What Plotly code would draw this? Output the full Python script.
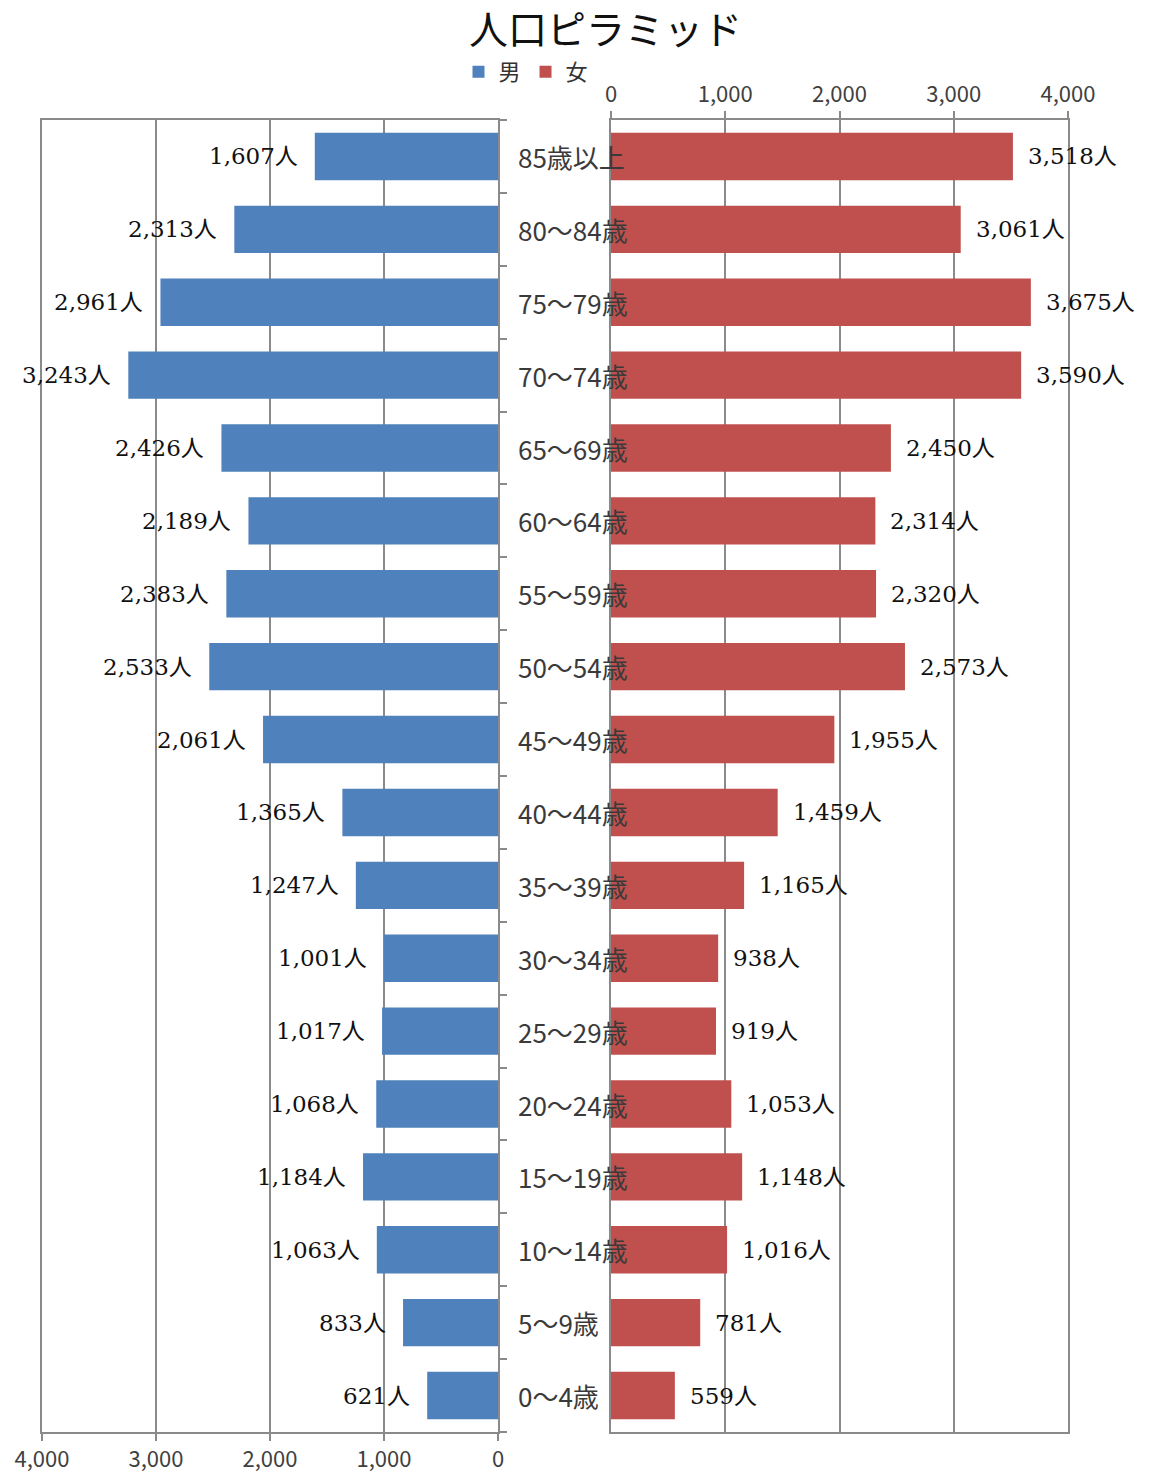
import plotly.graph_objects as go

# 年齢階級（下から上へ）
age_groups = ["0～4歳", "5～9歳", "10～14歳", "15～19歳", "20～24歳", "25～29歳",
              "30～34歳", "35～39歳", "40～44歳", "45～49歳", "50～54歳", "55～59歳",
              "60～64歳", "65～69歳", "70～74歳", "75～79歳", "80～84歳", "85歳以上"]
male = [621, 833, 1063, 1184, 1068, 1017, 1001, 1247, 1365, 2061,
        2533, 2383, 2189, 2426, 3243, 2961, 2313, 1607]
female = [559, 781, 1016, 1148, 1053, 919, 938, 1165, 1459, 1955,
          2573, 2320, 2314, 2450, 3590, 3675, 3061, 3518]
tick_vals = [0, 1000, 2000, 3000, 4000]
tick_text = ["0", "1,000", "2,000", "3,000", "4,000"]
chart_title = "人口ピラミッド"

BLUE = "#4F81BD"
RED = "#C0504D"
GRID = "#8a8a8a"
W, H = 1152, 1472

def px_x(p):
    return p / W

def px_y(p):
    return 1 - p / H

left_dom = [px_x(42), px_x(498)]
right_dom = [px_x(611), px_x(1068)]
y_dom = [px_y(1432), px_y(120)]

fig = go.Figure()
fig.add_trace(go.Bar(y=age_groups, x=male, orientation="h", name="男",
                     marker=dict(color=BLUE, line=dict(width=0)),
                     xaxis="x", yaxis="y"))
fig.add_trace(go.Bar(y=age_groups, x=female, orientation="h", name="女",
                     marker=dict(color=RED, line=dict(width=0)),
                     xaxis="x2", yaxis="y2"))

label_font = dict(family="DejaVu Serif, Noto Sans CJK JP", size=23, color="#111")
annotations = [dict(x=px_x(605), y=px_y(27), xref="paper", yref="paper",
                    text=chart_title, showarrow=False, xanchor="center",
                    yanchor="middle",
                    font=dict(family="Noto Sans CJK JP", size=39, color="#111"))]
for g, m, f in zip(age_groups, male, female):
    annotations.append(dict(x=m, y=g, xref="x", yref="y", text=f"{m:,}人",
                            showarrow=False, xanchor="right", xshift=-15,
                            font=label_font))
    annotations.append(dict(x=f, y=g, xref="x2", yref="y2", text=f"{f:,}人",
                            showarrow=False, xanchor="left", xshift=13,
                            font=label_font))
    annotations.append(dict(x=px_x(516), y=g, xref="paper", yref="y", text=g,
                            showarrow=False, xanchor="left",
                            font=dict(family="Noto Sans CJK JP", size=26, color="#3a3a3a")))

axis_font = dict(family="Noto Sans CJK JP", size=22, color="#404040")
common_x = dict(showgrid=True, gridcolor=GRID, gridwidth=2, showline=True,
                linecolor=GRID, linewidth=2, mirror=True, ticks="outside",
                ticklen=7, tickwidth=2, tickcolor=GRID, tickvals=tick_vals,
                ticktext=tick_text, tickfont=axis_font, zeroline=False,
                fixedrange=True, automargin=False)
common_y = dict(type="category", showline=True, linecolor=GRID, linewidth=2,
                showgrid=False, showticklabels=False, zeroline=False,
                fixedrange=True, automargin=False)

fig.update_layout(
    width=W, height=H,
    margin=dict(l=0, r=0, t=0, b=0, autoexpand=False),
    paper_bgcolor="white", plot_bgcolor="white",
    bargap=0.35,
    legend=dict(orientation="h", x=px_x(526), y=px_y(72), xanchor="center",
                yanchor="middle", font=dict(family="Noto Sans CJK JP", size=22, color="#333"),
                itemwidth=30, bgcolor="rgba(0,0,0,0)", traceorder="normal"),
    xaxis=dict(domain=left_dom, range=[4000, 0], side="bottom", anchor="y", **common_x),
    xaxis2=dict(domain=right_dom, range=[0, 4000], side="top", anchor="y2", **common_x),
    yaxis=dict(domain=y_dom, anchor="x", side="right", mirror=True, ticks="outside",
               tickson="boundaries", ticklen=7, tickwidth=2, tickcolor=GRID, **common_y),
    yaxis2=dict(domain=y_dom, anchor="x2", side="left", mirror=True, ticks="", **common_y),
    annotations=annotations,
)

fig.write_html("out.html")
